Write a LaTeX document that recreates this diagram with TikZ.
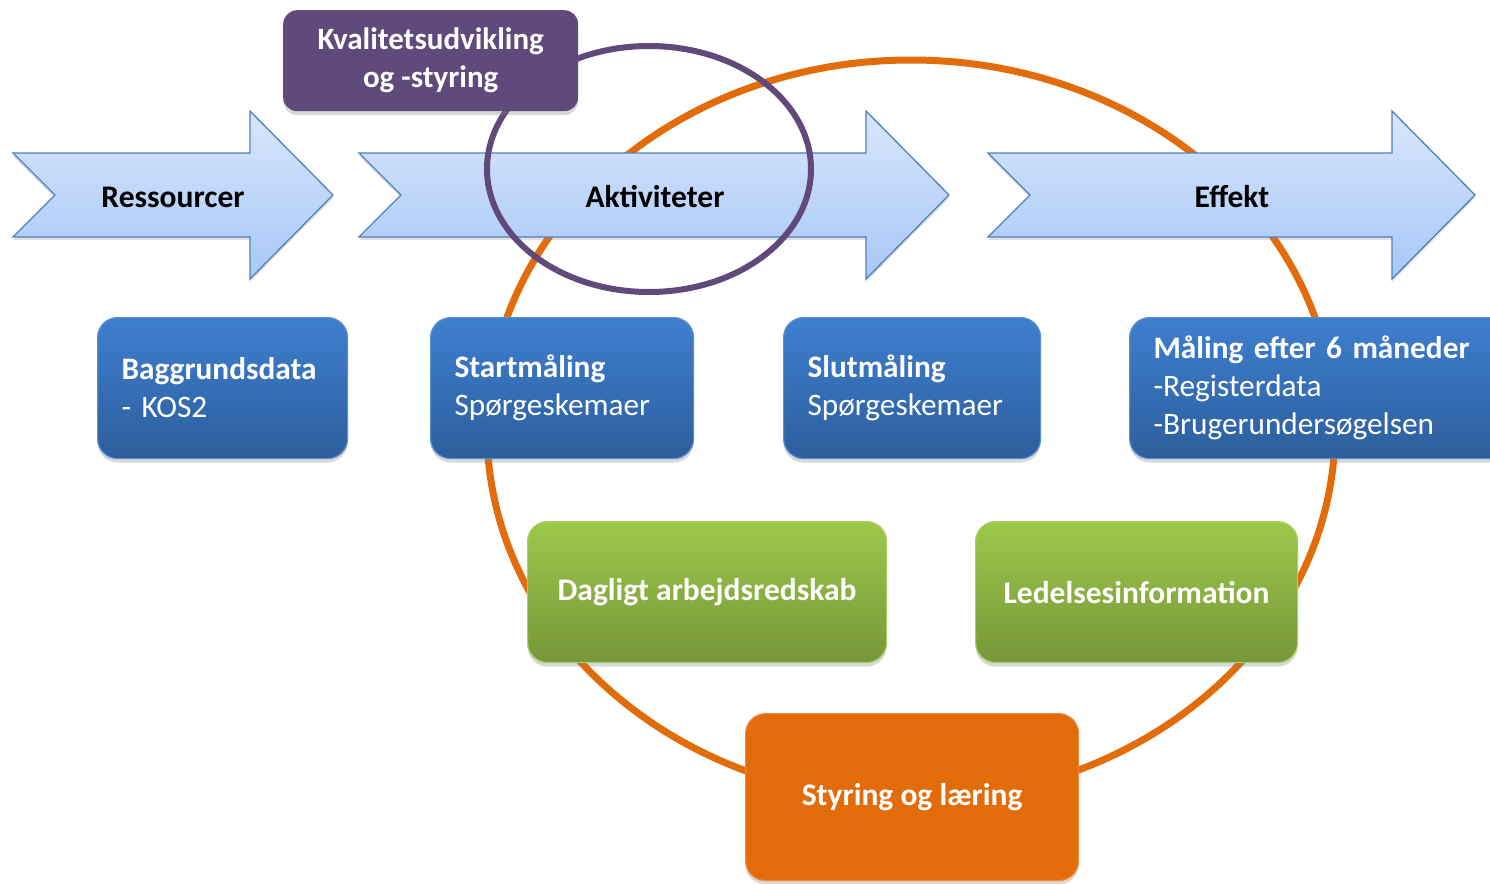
\documentclass[tikz,border=0pt]{standalone}
\usepackage{fontspec}
\setmainfont{Carlito}
\usetikzlibrary{shadows}
\definecolor{arrTop}{HTML}{D8E6FC}
\definecolor{arrBot}{HTML}{A8C7F6}
\definecolor{arrEdge}{HTML}{4F81BD}
\definecolor{blueTop}{HTML}{3E7FD0}
\definecolor{blueBot}{HTML}{2D5E9C}
\definecolor{blueEdge}{HTML}{5A8FD0}
\definecolor{greenTop}{HTML}{9DC84A}
\definecolor{greenBot}{HTML}{76973A}
\definecolor{greenEdge}{HTML}{A9CF5E}
\definecolor{orangeMain}{HTML}{E36C0A}
\definecolor{orangeEdge}{HTML}{F08A3A}
\definecolor{purpleMain}{HTML}{604A7B}
\begin{document}
\begin{tikzpicture}[x=1pt,y=-1pt,
  txt/.style={font=\fontsize{31.5}{38}\selectfont\bfseries, inner sep=0pt},
  arrowshape/.style={draw=arrEdge, line width=1.3pt, top color=arrTop, bottom color=arrBot,
    drop shadow={opacity=0.25, shadow xshift=0pt, shadow yshift=-3pt}},
  boxbase/.style={rounded corners=20pt, line width=1.2pt, text=white,
    font=\fontsize{31.3}{38}\selectfont, minimum height=141pt,
    drop shadow={opacity=0.3, shadow xshift=0pt, shadow yshift=-4pt}},
  bluebox/.style={boxbase, draw=blueEdge, top color=blueTop, bottom color=blueBot,
    align=left, inner xsep=24pt, anchor=north west},
  greenbox/.style={boxbase, draw=greenEdge, top color=greenTop, bottom color=greenBot,
    align=center, font=\fontsize{31.5}{38}\selectfont\bfseries, anchor=north west},
  orangebox/.style={boxbase, draw=orangeEdge, fill=orangeMain,
    align=center, font=\fontsize{31.5}{38}\selectfont\bfseries, anchor=north west},
  purplebox/.style={rounded corners=14pt, fill=purpleMain, text=white, align=center,
    font=\fontsize{31}{38}\selectfont\bfseries, anchor=north west,
    drop shadow={opacity=0.3, shadow xshift=0pt, shadow yshift=-4pt}},
]
\clip (0,0) rectangle (1490,883);
\fill[white] (0,0) rectangle (1490,883);

% orange cycle
\draw[orangeMain, line width=7pt] (911,430) ellipse [x radius=424, y radius=370];

% arrows
\path[arrowshape] (13,153) -- (250,153) -- (250,111) -- (333,195) -- (250,279) -- (250,237) -- (13,237) -- (55,195) -- cycle;
\path[arrowshape] (359,153) -- (866,153) -- (866,111) -- (949,195) -- (866,279) -- (866,237) -- (359,237) -- (401,195) -- cycle;
\path[arrowshape] (988,153) -- (1392,153) -- (1392,111) -- (1475,195) -- (1392,279) -- (1392,237) -- (988,237) -- (1030,195) -- cycle;
\node[txt] (res) at (173,197) {Ressourcer};
\node[txt] (akt) at (655,197) {Aktiviteter};
\node[txt] (eff) at (1232,197) {Effekt};

% purple ellipse and box
\draw[purpleMain, line width=6pt] (649,169) ellipse [x radius=162, y radius=123];
\node[purplebox, minimum width=295pt, minimum height=101pt] (kval) at (283,10)
  {Kvalitetsudvikling\\og -styring};

% blue boxes
\node[bluebox, text width=202pt] (bag) at (97,317)
  {\textbf{Baggrundsdata}\\- KOS2};
\node[bluebox, text width=215pt] (start) at (430,317)
  {\textbf{Startmåling}\\Spørgeskemaer};
\node[bluebox, text width=209pt] (slut) at (783,317)
  {\textbf{Slutmåling}\\Spørgeskemaer};
\node[bluebox, text width=340pt] (maal) at (1129,317)
  {\textbf{Måling efter 6 måneder}\\-Registerdata\\-Brugerundersøgelsen};

% green boxes
\node[greenbox, minimum width=359pt] (dag) at (527,521) {Dagligt arbejdsredskab};
\node[greenbox, minimum width=322pt] (led) at (975,521) {Ledelsesinformation};

% orange box
\node[orangebox, minimum width=333pt, minimum height=167pt] (sty) at (745,713) {Styring og læring};
\end{tikzpicture}
\end{document}
